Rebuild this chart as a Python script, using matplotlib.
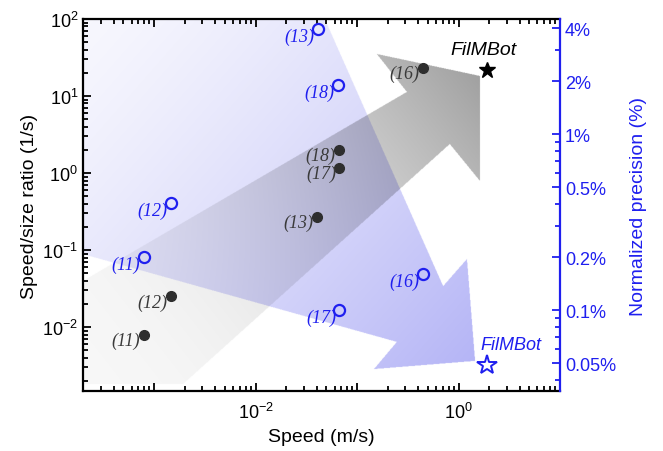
import numpy as np
import matplotlib
matplotlib.use("Agg")
import matplotlib.pyplot as plt
from matplotlib.path import Path
from matplotlib.ticker import LogLocator, NullFormatter, FixedLocator, FuncFormatter

plt.rcParams['font.family'] = ['Liberation Sans', 'DejaVu Sans']
plt.rcParams['mathtext.fontset'] = 'custom'
plt.rcParams['mathtext.rm'] = 'Liberation Sans'
plt.rcParams['mathtext.it'] = 'Liberation Sans:italic'

# speed (m/s) vs speed/size ratio (1/s) -> filled symbols, left axis
ratio_names = ['(11)', '(12)', '(13)', '(18)', '(17)', '(16)']
ratio_speed = [7.9e-4, 1.48e-3, 0.040, 0.066, 0.067, 0.45]
ratio_vals = [0.0079, 0.025, 0.27, 2.0, 1.16, 23.0]

# speed (m/s) vs normalized precision (%) -> open symbols, right axis
prec_names = ['(13)', '(18)', '(12)', '(11)', '(16)', '(17)']
prec_speed = [0.041, 0.065, 1.48e-3, 7.9e-4, 0.45, 0.067]
prec_vals = [3.95, 1.9, 0.405, 0.2, 0.16, 0.1]

# FilMBot
fil_speed = 1.93
fil_ratio = 21.8
fil_prec = 0.049

x_labels = {1e-2: '$10^{-2}$', 1.0: '$10^{0}$'}
prec_ticks = [0.05, 0.1, 0.2, 0.5, 1, 2, 4]

dark = '#2e2e2e'
blue = '#1f1fef'

fig = plt.figure(figsize=(6.63, 4.52), dpi=100)
pos = [83 / 663, 1 - 392 / 452, 477 / 663, 372 / 452]

# background with the two big arrows (axes-fraction coordinates)
bg = fig.add_axes(pos, zorder=0)
bg.set_xlim(0, 1)
bg.set_ylim(0, 1)
bg.axis('off')

purple_arrow = [(0, 1.05), (0.507, 1.05), (0.507, 1.0), (0.755, 0.282), (0.805, 0.355),
                (0.822, 0.081), (0.610, 0.059), (0.658, 0.132), (0, 0.368)]
gray_arrow = [(0, 0.296), (0.679, 0.804), (0.616, 0.906), (0.832, 0.847),
              (0.832, 0.565), (0.769, 0.664), (0.210, 0.019), (0, 0.019)]

W, H = 954, 744
gx, gy = np.meshgrid((np.arange(W) + 0.5) / W, (np.arange(H) + 0.5) / H)
pts = np.column_stack([gx.ravel(), gy.ravel()])


def ramp(p0, p1):
    # gradient position along the arrow, measured in screen-like units
    vx, vy = (p1[0] - p0[0]) * 477, (p1[1] - p0[1]) * 372
    t = ((gx - p0[0]) * 477 * vx + (gy - p0[1]) * 372 * vy) / (vx * vx + vy * vy)
    return np.clip(t, 0, 1)


img = np.ones((H, W, 3))
m = Path(purple_arrow).contains_points(pts).reshape(H, W)
t = ramp((0, 1), (0.82, 0.08)) ** 1.3
c0 = np.array([0.97, 0.97, 0.995])
c1 = np.array([0.71, 0.71, 0.965])
col = c0 + (c1 - c0) * t[..., None]
img[m] = col[m]

m = Path(gray_arrow).contains_points(pts).reshape(H, W)
t = ramp((0, 0.02), (0.83, 0.85))
g = 0.97 + (0.63 - 0.97) * t ** 2
img[m] *= g[m][:, None]

bg.imshow(img, extent=(0, 1, 0, 1), origin='lower', aspect='auto', interpolation='antialiased')

# main axes
ax = fig.add_axes(pos, zorder=1)
ax.patch.set_visible(False)
axr = ax.twinx()
axr.set_zorder(2)
axr.patch.set_visible(False)

ax.set_xscale('log')
ax.set_yscale('log')
axr.set_yscale('log')

ax.plot(ratio_speed, ratio_vals, 'o', color=dark, ms=7, zorder=3)
ax.plot([fil_speed], [fil_ratio], '*', color='black', ms=12, zorder=3)
for name, xv, yv in zip(ratio_names, ratio_speed, ratio_vals):
    ax.annotate(name, (xv, yv), xytext=(-2.5, -4), textcoords='offset points',
                ha='right', va='center', fontsize=13, color='#3a3a3a',
                family='Liberation Serif', style='italic')
ax.annotate('FilMBot', (fil_speed, fil_ratio), xytext=(-3, 15), textcoords='offset points',
            ha='center', va='center', fontsize=14, style='italic', color='black')

axr.plot(prec_speed, prec_vals, 'o', mfc='none', mec=blue, mew=1.6, ms=8, zorder=3)
axr.plot([fil_speed], [fil_prec], '*', mfc='none', mec=blue, mew=1.4, ms=15, zorder=3)
for name, xv, yv in zip(prec_names, prec_speed, prec_vals):
    axr.annotate(name, (xv, yv), xytext=(-2.5, -5), textcoords='offset points',
                 ha='right', va='center', fontsize=13, color=blue,
                 family='Liberation Serif', style='italic')
axr.annotate('FilMBot', (fil_speed, fil_prec), xytext=(17, 14.5), textcoords='offset points',
             ha='center', va='center', fontsize=13, style='italic', color=blue)

ax.set_xlim(10 ** -3.7, 10)
ax.set_ylim(10 ** -2.83, 100)
axr.set_ylim(0.0347, 4.5)

ax.xaxis.set_major_locator(FixedLocator([1e-3, 1e-2, 1e-1, 1, 10]))
ax.xaxis.set_major_formatter(FuncFormatter(lambda v, p: x_labels.get(v, '')))
ax.xaxis.set_minor_locator(LogLocator(base=10, subs=np.arange(2, 10), numticks=20))
ax.xaxis.set_minor_formatter(NullFormatter())
ax.yaxis.set_major_locator(LogLocator(base=10, numticks=10))
ax.yaxis.set_minor_locator(LogLocator(base=10, subs=np.arange(2, 10), numticks=20))
ax.yaxis.set_minor_formatter(NullFormatter())

axr.yaxis.set_major_locator(FixedLocator(prec_ticks))
axr.yaxis.set_major_formatter(FuncFormatter(lambda v, p: f'{v:g}%'))
axr.yaxis.set_minor_locator(LogLocator(base=10, subs=np.arange(2, 10), numticks=20))
axr.yaxis.set_minor_formatter(NullFormatter())

ax.tick_params(which='both', direction='in', top=True, right=False, labelsize=13, width=1.3)
ax.tick_params(which='major', length=6)
ax.tick_params(which='minor', length=3.5)
ax.tick_params(axis='x', which='major', pad=8)
axr.tick_params(which='both', direction='in', colors=blue, labelsize=13, width=1.3)
axr.tick_params(which='major', length=6)
axr.tick_params(which='minor', length=3.5)

for s in ['left', 'bottom', 'top']:
    ax.spines[s].set_linewidth(1.6)
ax.spines['right'].set_visible(False)
for s in ['left', 'bottom', 'top']:
    axr.spines[s].set_visible(False)
axr.spines['right'].set_color(blue)
axr.spines['right'].set_linewidth(1.6)

ax.set_xlabel('Speed (m/s)', fontsize=14, labelpad=4)
ax.set_ylabel('Speed/size ratio (1/s)', fontsize=14, labelpad=3)
axr.set_ylabel('Normalized precision (%)', fontsize=14, color=blue, labelpad=10)

fig.savefig('out.png', dpi=100)
